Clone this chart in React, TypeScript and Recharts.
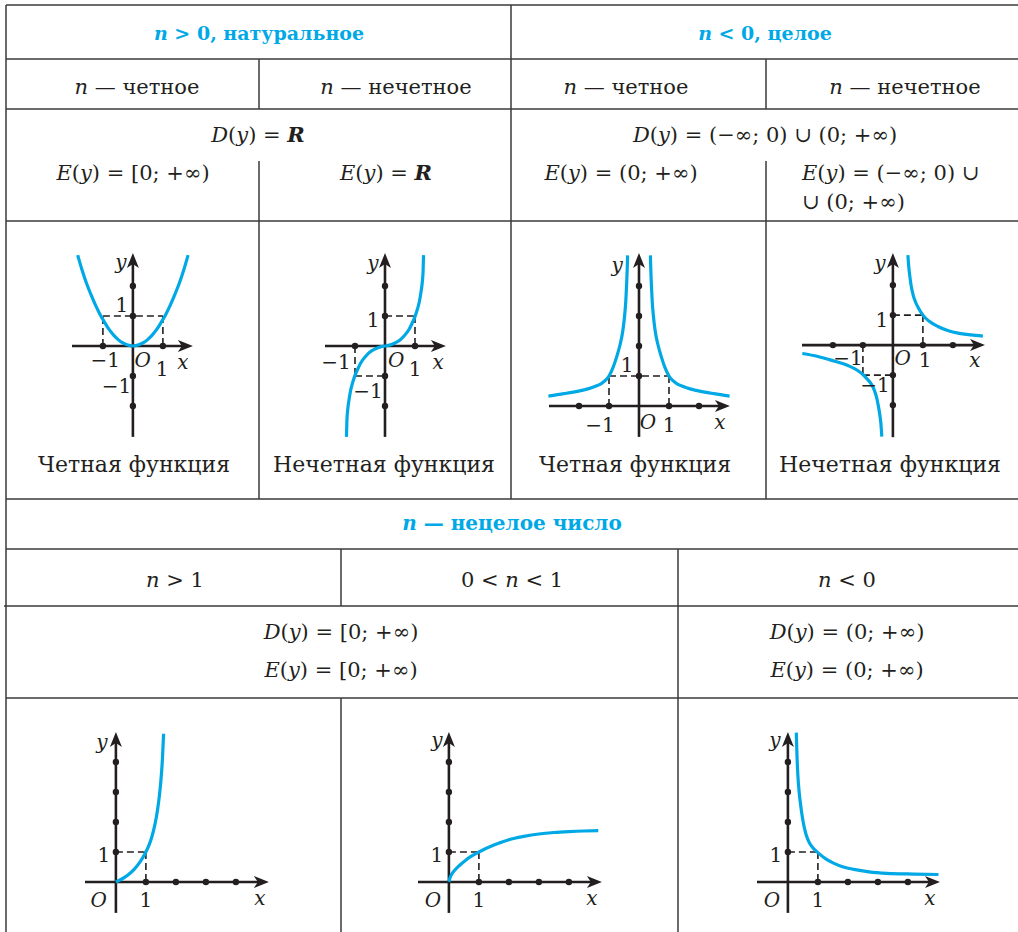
import React from "react";
import { LineChart, Line, XAxis, YAxis, ReferenceLine, ReferenceDot } from "recharts";

const UNIT = 30;
const INK = "#231f20";
const CYAN = "#00a9e6";
const SERIF = '"DejaVu Serif", serif';

// curves, in grid units
const evenNatX = [-1.84, -1.7, -1.55, -1.4, -1.25, -1.1, -0.95, -0.8, -0.65, -0.5, -0.35, -0.2, 0, 0.2, 0.35, 0.5, 0.65, 0.8, 0.95, 1.1, 1.25, 1.4, 1.55, 1.7, 1.84];
const evenNatY = [3.03, 2.55, 2.1, 1.72, 1.37, 1.06, 0.8, 0.56, 0.37, 0.22, 0.11, 0.04, 0, 0.04, 0.11, 0.22, 0.37, 0.56, 0.8, 1.06, 1.37, 1.72, 2.1, 2.55, 3.03];

const oddNatX = [-1.285, -1.27, -1.24, -1.2, -1.15, -1.09, -1.0, -0.9, -0.8, -0.65, -0.5, -0.33, -0.15, 0, 0.15, 0.33, 0.5, 0.65, 0.8, 0.9, 1.0, 1.09, 1.15, 1.2, 1.24, 1.27, 1.285];
const oddNatY = [-3.03, -2.5, -2.1, -1.8, -1.5, -1.26, -0.98, -0.75, -0.55, -0.35, -0.2, -0.1, -0.03, 0, 0.03, 0.1, 0.2, 0.35, 0.55, 0.75, 0.98, 1.26, 1.5, 1.8, 2.1, 2.5, 3.03];

const evenNegRightX = [0.38, 0.395, 0.415, 0.44, 0.48, 0.54, 0.63, 0.75, 0.87, 1, 1.12, 1.27, 1.47, 1.7, 1.91, 2.5, 3.02];
const evenNegRightY = [5.02, 4.5, 4.0, 3.5, 3.0, 2.5, 2.05, 1.62, 1.27, 1.0, 0.85, 0.74, 0.65, 0.57, 0.52, 0.41, 0.33];
const evenNegLeftX = [-3.02, -2.5, -1.91, -1.7, -1.47, -1.27, -1.12, -1, -0.87, -0.75, -0.63, -0.54, -0.48, -0.44, -0.415, -0.395, -0.38];
const evenNegLeftY = [0.33, 0.41, 0.52, 0.57, 0.65, 0.74, 0.85, 1.0, 1.27, 1.62, 2.05, 2.5, 3.0, 3.5, 4.0, 4.5, 5.02];

const oddNegLeftX = [-3.02, -2.5, -2.06, -1.5, -1.2, -1, -0.85, -0.72, -0.62, -0.55, -0.49, -0.44, -0.4, -0.37];
const oddNegLeftY = [-0.28, -0.38, -0.5, -0.68, -0.83, -0.98, -1.14, -1.3, -1.5, -1.72, -2.0, -2.3, -2.62, -3.05];
const oddNegRightX = [0.5, 0.53, 0.57, 0.61, 0.68, 0.76, 0.85, 1, 1.2, 1.5, 1.85, 2.17, 2.6, 3.0];
const oddNegRightY = [3.0, 2.6, 2.25, 1.97, 1.65, 1.42, 1.24, 1.0, 0.8, 0.62, 0.48, 0.4, 0.34, 0.3];

const powBigX = [0, 0.2, 0.4, 0.6, 0.8, 1, 1.1, 1.2, 1.3, 1.38, 1.45, 1.5, 1.55, 1.59];
const powBigY = [0, 0.1, 0.23, 0.41, 0.66, 1, 1.22, 1.51, 1.91, 2.35, 2.88, 3.38, 4.08, 4.94];

const powFracX = [0, 0.04, 0.1, 0.2, 0.35, 0.55, 0.75, 1, 1.5, 2, 2.5, 3, 3.5, 4, 4.5, 4.98];
const powFracY = [0, 0.15, 0.27, 0.4, 0.55, 0.72, 0.86, 1, 1.23, 1.41, 1.52, 1.6, 1.65, 1.68, 1.7, 1.71];

const powNegX = [0.28, 0.3, 0.33, 0.37, 0.42, 0.5, 0.6, 0.72, 0.85, 1, 1.25, 1.52, 1.85, 2.2, 2.7, 3.3, 4.2, 5.02];
const powNegY = [4.98, 4.3, 3.6, 3.05, 2.6, 2.05, 1.6, 1.3, 1.12, 0.98, 0.78, 0.63, 0.5, 0.42, 0.34, 0.29, 0.265, 0.25];

type Label = { t: string; x: number; y: number; it?: boolean };
type Graph = {
  ox: number;
  oy: number;
  xAxis: [number, number];
  yAxis: [number, number];
  xDots: number[];
  yDots: number[];
  dashes: number[][];
  curves: { x: number[]; y: number[] }[];
  labels: Label[];
};

const zip = (xs: number[], ys: number[]) => xs.map((x, i) => ({ x, y: ys[i] }));

const dashL = [[-1, 0, -1, 1], [-1, 1, 1, 1], [1, 1, 1, 0]];
const dashOdd = [[0, 1, 1, 1], [1, 1, 1, 0], [-1, 0, -1, -1], [-1, -1, 0, -1]];
const dashQ = [[0, 1, 1, 1], [1, 1, 1, 0]];

const quadLabels = (lx: number, ly: number, ox: number, oy: number, one: number, xx: number): Label[] => [
  { t: "y", x: lx, y: ly, it: true },
  { t: "1", x: -0.4, y: 0.9 },
  { t: "O", x: ox, y: oy, it: true },
  { t: "1", x: one, y: -0.6 },
  { t: "x", x: xx, y: -0.55, it: true },
];

const graphs: Graph[] = [
  {
    ox: 133, oy: 346, xAxis: [-2.03, 2.0], yAxis: [-3.03, 3.1],
    xDots: [-1, 1], yDots: [-2, -1, 1, 2], dashes: dashL,
    curves: [{ x: evenNatX, y: evenNatY }],
    labels: [
      { t: "y", x: -0.4, y: 2.8, it: true },
      { t: "1", x: -0.37, y: 1.37 },
      { t: "−1", x: -0.92, y: -0.47 },
      { t: "−1", x: -0.55, y: -1.33 },
      { t: "O", x: 0.33, y: -0.47, it: true },
      { t: "1", x: 0.97, y: -0.77 },
      { t: "x", x: 1.67, y: -0.53, it: true },
    ],
  },
  {
    ox: 385, oy: 346, xAxis: [-2.0, 2.03], yAxis: [-3.03, 3.1],
    xDots: [-1, 1], yDots: [-2, -1, 1, 2], dashes: dashOdd,
    curves: [{ x: oddNatX, y: oddNatY }],
    labels: [
      { t: "y", x: -0.4, y: 2.77, it: true },
      { t: "1", x: -0.4, y: 0.87 },
      { t: "−1", x: -1.63, y: -0.53 },
      { t: "−1", x: -0.57, y: -1.5 },
      { t: "O", x: 0.37, y: -0.47, it: true },
      { t: "1", x: 1.0, y: -0.77 },
      { t: "x", x: 1.77, y: -0.53, it: true },
    ],
  },
  {
    ox: 639, oy: 406, xAxis: [-3.0, 3.03], yAxis: [-1.03, 5.1],
    xDots: [-2, -1, 1, 2], yDots: [1, 2, 3, 4], dashes: dashL,
    curves: [{ x: evenNegLeftX, y: evenNegLeftY }, { x: evenNegRightX, y: evenNegRightY }],
    labels: [
      { t: "y", x: -0.73, y: 4.7, it: true },
      { t: "1", x: -0.4, y: 1.37 },
      { t: "−1", x: -1.3, y: -0.63 },
      { t: "O", x: 0.3, y: -0.53, it: true },
      { t: "1", x: 1.0, y: -0.63 },
      { t: "x", x: 2.7, y: -0.53, it: true },
    ],
  },
  {
    ox: 893, oy: 345, xAxis: [-3.03, 3.07], yAxis: [-3.07, 3.07],
    xDots: [-2, -1, 1, 2], yDots: [-2, -1, 1, 2], dashes: dashOdd,
    curves: [{ x: oddNegLeftX, y: oddNegLeftY }, { x: oddNegRightX, y: oddNegRightY }],
    labels: [
      { t: "y", x: -0.43, y: 2.73, it: true },
      { t: "1", x: -0.37, y: 0.83 },
      { t: "−1", x: -1.5, y: -0.43 },
      { t: "−1", x: -0.6, y: -1.33 },
      { t: "O", x: 0.33, y: -0.43, it: true },
      { t: "1", x: 1.07, y: -0.5 },
      { t: "x", x: 2.73, y: -0.5, it: true },
    ],
  },
  {
    ox: 116, oy: 882, xAxis: [-1.03, 5.1], yAxis: [-1.03, 5.0],
    xDots: [1, 2, 3, 4], yDots: [1, 2, 3, 4], dashes: dashQ,
    curves: [{ x: powBigX, y: powBigY }],
    labels: quadLabels(-0.47, 4.67, -0.57, -0.6, 1.0, 4.8),
  },
  {
    ox: 449, oy: 882, xAxis: [-1.03, 5.1], yAxis: [-1.03, 5.0],
    xDots: [1, 2, 3, 4], yDots: [1, 2, 3, 4], dashes: dashQ,
    curves: [{ x: powFracX, y: powFracY }],
    labels: quadLabels(-0.4, 4.73, -0.53, -0.6, 1.0, 4.77),
  },
  {
    ox: 788, oy: 882, xAxis: [-1.03, 5.07], yAxis: [-1.03, 5.0],
    xDots: [1, 2, 3, 4], yDots: [1, 2, 3, 4], dashes: dashQ,
    curves: [{ x: powNegX, y: powNegY }],
    labels: quadLabels(-0.43, 4.73, -0.53, -0.6, 1.0, 4.73),
  },
];

function GraphView({ g }: { g: Graph }) {
  const x0 = g.xAxis[0] - 1.3;
  const x1 = g.xAxis[1] + 0.7;
  const y0 = g.yAxis[0] - 0.8;
  const y1 = g.yAxis[1] + 0.6;
  const w = (x1 - x0) * UNIT;
  const h = (y1 - y0) * UNIT;
  return (
    <div style={{ position: "absolute", left: g.ox + x0 * UNIT, top: g.oy - y1 * UNIT }}>
      <LineChart width={w} height={h} margin={{ top: 0, right: 0, bottom: 0, left: 0 }} style={{ overflow: "visible" }}>
        <XAxis type="number" dataKey="x" domain={[x0, x1]} hide allowDataOverflow />
        <YAxis type="number" dataKey="y" domain={[y0, y1]} hide allowDataOverflow />
        {g.dashes.map((d, i) => (
          <ReferenceLine
            key={"d" + i}
            segment={[{ x: d[0], y: d[1] }, { x: d[2], y: d[3] }]}
            stroke={INK}
            strokeWidth={1.6}
            strokeDasharray="7 4"
            ifOverflow="visible"
          />
        ))}
        <ReferenceLine
          segment={[{ x: g.xAxis[0], y: 0 }, { x: g.xAxis[1] - 0.2, y: 0 }]}
          stroke={INK}
          strokeWidth={2.6}
          ifOverflow="visible"
        />
        <ReferenceLine
          segment={[{ x: 0, y: g.yAxis[0] }, { x: 0, y: g.yAxis[1] - 0.2 }]}
          stroke={INK}
          strokeWidth={2.6}
          ifOverflow="visible"
        />
        {g.curves.map((c, i) => (
          <Line
            key={"c" + i}
            data={zip(c.x, c.y)}
            dataKey="y"
            type="monotone"
            stroke={CYAN}
            strokeWidth={3.2}
            dot={false}
            activeDot={false}
            isAnimationActive={false}
          />
        ))}
        {g.xDots.map((v) => (
          <ReferenceDot key={"x" + v} x={v} y={0} r={3.2} fill={INK} stroke="none" ifOverflow="visible" />
        ))}
        {g.yDots.map((v) => (
          <ReferenceDot key={"y" + v} x={0} y={v} r={3.2} fill={INK} stroke="none" ifOverflow="visible" />
        ))}
        <ReferenceDot
          x={g.xAxis[1]}
          y={0}
          ifOverflow="visible"
          shape={(p: any) => (
            <path
              d={`M${p.cx},${p.cy} L${p.cx - 15},${p.cy - 6} L${p.cx - 11},${p.cy} L${p.cx - 15},${p.cy + 6} Z`}
              fill={INK}
            />
          )}
        />
        <ReferenceDot
          x={0}
          y={g.yAxis[1]}
          ifOverflow="visible"
          shape={(p: any) => (
            <path
              d={`M${p.cx},${p.cy} L${p.cx - 6},${p.cy + 15} L${p.cx},${p.cy + 11} L${p.cx + 6},${p.cy + 15} Z`}
              fill={INK}
            />
          )}
        />
        {g.labels.map((l, i) => (
          <ReferenceDot
            key={"l" + i}
            x={l.x}
            y={l.y}
            ifOverflow="visible"
            shape={(p: any) => (
              <text
                x={p.cx}
                y={p.cy}
                textAnchor="middle"
                dominantBaseline="central"
                fontFamily={SERIF}
                fontSize={20}
                fontStyle={l.it ? "italic" : "normal"}
                fill={INK}
              >
                {l.t}
              </text>
            )}
          />
        ))}
      </LineChart>
    </div>
  );
}

function T({ x, y, children, head, left, size }: { x: number; y: number; children: React.ReactNode; head?: boolean; left?: boolean; size?: number }) {
  return (
    <div
      style={{
        position: "absolute",
        left: x,
        top: y,
        transform: left ? "translate(0,-50%)" : "translate(-50%,-50%)",
        whiteSpace: "nowrap",
        fontFamily: SERIF,
        fontSize: size ?? (head ? 19 : 21),
        fontWeight: head ? "bold" : "normal",
        color: head ? CYAN : INK,
        lineHeight: 1,
      }}
    >
      {children}
    </div>
  );
}

const hLines = [
  [6, 1018, 5], [6, 1018, 59], [6, 1018, 109], [6, 1018, 221], [6, 1018, 499],
  [6, 1018, 549], [4, 1018, 606], [6, 1018, 698],
];
const vLines = [
  [6, 5, 932], [259, 59, 109], [259, 161, 499], [511, 5, 499], [766, 59, 109], [766, 161, 499],
  [341, 549, 606], [341, 698, 932], [678, 549, 932],
];

export default function App() {
  return (
    <div style={{ position: "absolute", left: 0, top: 0, width: 1018, height: 932, background: "#fff", overflow: "hidden" }}>
      <svg width={1018} height={932} style={{ position: "absolute", left: 0, top: 0 }}>
        {hLines.map((l, i) => (
          <line key={"h" + i} x1={l[0]} x2={l[1]} y1={l[2]} y2={l[2]} stroke="#3a3a3a" strokeWidth={1.5} />
        ))}
        {vLines.map((l, i) => (
          <line key={"v" + i} x1={l[0]} x2={l[0]} y1={l[1]} y2={l[2]} stroke="#3a3a3a" strokeWidth={1.5} />
        ))}
      </svg>

      <T x={259} y={33} head><i>n</i> &gt; 0, натуральное</T>
      <T x={765} y={33} head><i>n</i> &lt; 0, целое</T>

      <T x={137} y={87}><i>n</i> — четное</T>
      <T x={396} y={87}><i>n</i> — нечетное</T>
      <T x={626} y={87}><i>n</i> — четное</T>
      <T x={905} y={87}><i>n</i> — нечетное</T>

      <T x={258} y={135}><i>D</i>(<i>y</i>) = <b><i>R</i></b></T>
      <T x={133} y={173}><i>E</i>(<i>y</i>) = [0; +∞)</T>
      <T x={386} y={173}><i>E</i>(<i>y</i>) = <b><i>R</i></b></T>
      <T x={765} y={135}><i>D</i>(<i>y</i>) = (−∞; 0) ∪ (0; +∞)</T>
      <T x={621} y={173}><i>E</i>(<i>y</i>) = (0; +∞)</T>
      <T x={802} y={173} left><i>E</i>(<i>y</i>) = (−∞; 0) ∪</T>
      <T x={802} y={202} left>∪ (0; +∞)</T>

      {graphs.map((g, i) => (
        <GraphView key={i} g={g} />
      ))}

      <T x={134} y={465} size={22}>Четная функция</T>
      <T x={384} y={465} size={22}>Нечетная функция</T>
      <T x={635} y={465} size={22}>Четная функция</T>
      <T x={890} y={465} size={22}>Нечетная функция</T>

      <T x={512} y={523} head size={20}><i>n</i> — нецелое число</T>
      <T x={175} y={580}><i>n</i> &gt; 1</T>
      <T x={512} y={580}>0 &lt; <i>n</i> &lt; 1</T>
      <T x={847} y={580}><i>n</i> &lt; 0</T>

      <T x={341} y={632}><i>D</i>(<i>y</i>) = [0; +∞)</T>
      <T x={341} y={670}><i>E</i>(<i>y</i>) = [0; +∞)</T>
      <T x={847} y={632}><i>D</i>(<i>y</i>) = (0; +∞)</T>
      <T x={847} y={670}><i>E</i>(<i>y</i>) = (0; +∞)</T>
    </div>
  );
}
